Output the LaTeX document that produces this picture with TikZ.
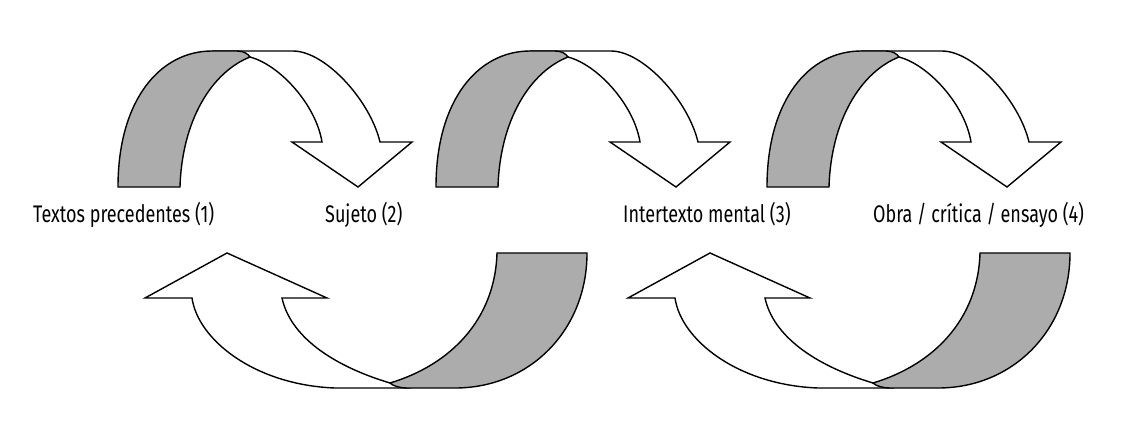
\documentclass[tikz,border=0pt]{standalone}
\usepackage{fontspec}
\setmainfont[FakeStretch=0.75]{Fira Sans}
\definecolor{ribbongray}{RGB}{172,172,172}
\tikzset{
  ribbon/.style={draw=black, line width=1.4pt, line join=miter},
  backside/.style={ribbon, fill=ribbongray},
  frontside/.style={ribbon, fill=white},
  steplabel/.style={anchor=base west, inner sep=0pt, font=\fontsize{24}{24}\selectfont},
  toparrow/.pic={
    \path[frontside] (212,51) -- (293,51) .. controls (325,51) and (370,100) .. (380,142)
      -- (412,142) -- (358,187) -- (292,142) -- (322,142)
      .. controls (316,105) and (280,65) .. (250,57) -- cycle;
    \path[backside] (118,187) .. controls (118,100) and (160,51) .. (212,51) -- (237,51)
      .. controls (244,51) and (248,54) .. (250,57)
      .. controls (212,72) and (182,120) .. (180,187) -- cycle;
  },
  bottomarrow/.pic={
    \path[frontside] (145,298) -- (227,253) -- (327,298) -- (282,298)
      .. controls (290,335) and (330,365) .. (390,383) -- (407,388) -- (335,388)
      .. controls (255,385) and (198,340) .. (192,298) -- cycle;
    \path[backside] (497,253) -- (587,253) .. controls (587,330) and (530,388) .. (455,388)
      -- (407,388) .. controls (400,388) and (393,386) .. (390,383)
      .. controls (450,365) and (495,320) .. (497,253) -- cycle;
  }
}
\begin{document}
\begin{tikzpicture}[x=1pt, y=-1pt]
  \useasboundingbox (0,0) rectangle (1141,421);
  \pic at (0,0) {toparrow};
  \pic at (318,0) {toparrow};
  \pic at (649,0) {toparrow};
  \pic at (0,0) {bottomarrow};
  \pic at (483,0) {bottomarrow};
  \node[steplabel] (t1) at (33,222) {Textos precedentes (1)};
  \node[steplabel] (t2) at (325,222) {Sujeto (2)};
  \node[steplabel] (t3) at (623,222) {Intertexto mental (3)};
  \node[steplabel] (t4) at (873,222) {Obra / crítica / ensayo (4)};
\end{tikzpicture}
\end{document}
